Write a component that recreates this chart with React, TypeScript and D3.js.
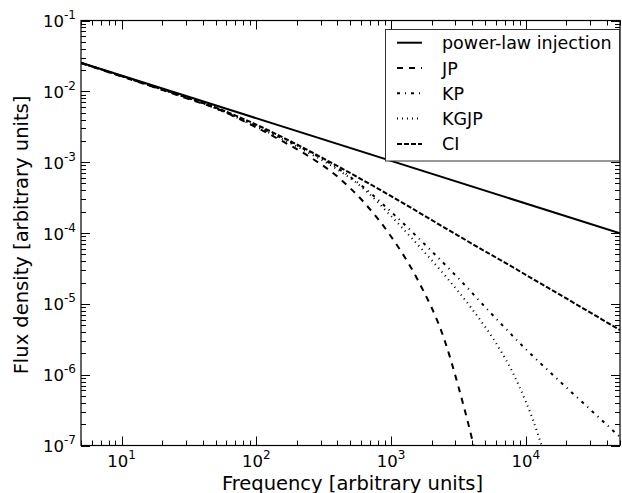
import React from "react";
import * as d3 from "d3";

// Data (log10 units on both axes)
const powerLawLogFreq = [0.699, 4.699];
const powerLawLogFlux = [-1.596, -4.004];

const jpLogFreq = [0.699, 1.0, 1.3, 1.5, 1.7, 2.0, 2.2, 2.4, 2.6, 2.8, 3.0, 3.2, 3.4, 3.5, 3.6, 3.65];
const jpLogFlux = [-1.6, -1.79, -1.98, -2.11, -2.24, -2.51, -2.71, -2.93, -3.2, -3.57, -4.05, -4.67, -5.53, -6.17, -6.9, -7.3];

const kpLogFreq = [0.699, 1.0, 1.3, 1.5, 1.7, 2.0, 2.2, 2.4, 2.6, 2.8, 3.0, 3.25, 3.5, 3.75, 4.0, 4.25, 4.5, 4.699];
const kpLogFlux = [-1.6, -1.785, -1.975, -2.1, -2.235, -2.49, -2.67, -2.86, -3.08, -3.36, -3.7, -4.16, -4.64, -5.15, -5.64, -6.09, -6.53, -6.88];

const kgjpLogFreq = [0.699, 1.0, 1.3, 1.5, 1.7, 2.0, 2.2, 2.4, 2.6, 2.8, 3.0, 3.2, 3.4, 3.6, 3.8, 3.9, 4.0, 4.05, 4.1, 4.15];
const kgjpLogFlux = [-1.6, -1.785, -1.975, -2.1, -2.24, -2.5, -2.68, -2.88, -3.1, -3.38, -3.76, -4.17, -4.6, -5.07, -5.62, -5.96, -6.38, -6.62, -6.9, -7.2];

const ciLogFreq = [0.699, 1.0, 1.3, 1.5, 1.7, 2.0, 2.3, 2.5, 2.75, 3.0, 3.5, 4.0, 4.699];
const ciLogFlux = [-1.6, -1.783, -1.97, -2.098, -2.23, -2.47, -2.75, -2.95, -3.21, -3.48, -4.04, -4.59, -5.37];

const seriesNames = ["power-law injection", "JP", "KP", "KGJP", "CI"];
const xTickExps = [1, 2, 3, 4];
const yTickExps = [-7, -6, -5, -4, -3, -2, -1];

const xLabel = "Frequency [arbitrary units]";
const yLabel = "Flux density [arbitrary units]";

const W = 622, H = 493;
const L = 81, R = 620, T = 20.5, B = 445.5;
const FONT = "DejaVu Sans, sans-serif";

export default function App() {
  const x = d3.scaleLog().domain([5, 5e4]).range([L, R]);
  const y = d3.scaleLog().domain([1e-7, 1e-1]).range([B, T]);

  const mk = (lf: number[], lv: number[]) => lf.map((f, i) => [Math.pow(10, f), Math.pow(10, lv[i])] as [number, number]);
  const line = d3.line<[number, number]>().x(d => x(d[0])).y(d => y(d[1])).curve(d3.curveMonotoneX);

  const series = [
    { name: seriesNames[0], data: mk(powerLawLogFreq, powerLawLogFlux), dash: "none" },
    { name: seriesNames[1], data: mk(jpLogFreq, jpLogFlux), dash: "6,6" },
    { name: seriesNames[2], data: mk(kpLogFreq, kpLogFlux), dash: "3,5,1,5" },
    { name: seriesNames[3], data: mk(kgjpLogFreq, kgjpLogFlux), dash: "1,4" },
    { name: seriesNames[4], data: mk(ciLogFreq, ciLogFlux), dash: "5,2" },
  ];

  const xMinor: number[] = [];
  for (let d = 0; d <= 4; d++) for (let k = 2; k <= 9; k++) {
    const v = k * Math.pow(10, d);
    if (v >= 5 && v <= 5e4) xMinor.push(v);
  }
  const yMinor: number[] = [];
  for (let d = -7; d <= -2; d++) for (let k = 2; k <= 9; k++) yMinor.push(k * Math.pow(10, d));

  const major = 9, minor = 5;

  return (
    <svg width={W} height={H} style={{ position: "absolute", left: 0, top: 0, background: "#fff" }} fontFamily={FONT}>
      <rect x={0} y={0} width={W} height={H} fill="#fff" />
      <defs>
        <clipPath id="plotclip"><rect x={L} y={T} width={R - L} height={B - T} /></clipPath>
      </defs>
      <g clipPath="url(#plotclip)">
        {series.map(s => (
          <path key={s.name} d={line(s.data) || ""} fill="none" stroke="#000" strokeWidth={2}
            strokeDasharray={s.dash === "none" ? undefined : s.dash} />
        ))}
      </g>
      {/* ticks */}
      <g stroke="#000" strokeWidth={1}>
        {xTickExps.map(e => {
          const px = Math.round(x(Math.pow(10, e))) + 0.5;
          return <g key={"xt" + e}>
            <line x1={px} x2={px} y1={B} y2={B - major} />
            <line x1={px} x2={px} y1={T} y2={T + major} />
          </g>;
        })}
        {xMinor.map(v => {
          const px = Math.round(x(v)) + 0.5;
          return <g key={"xm" + v}>
            <line x1={px} x2={px} y1={B} y2={B - minor} />
            <line x1={px} x2={px} y1={T} y2={T + minor} />
          </g>;
        })}
        {yTickExps.map(e => {
          const py = Math.round(y(Math.pow(10, e))) + 0.5;
          return <g key={"yt" + e}>
            <line x1={L} x2={L + major} y1={py} y2={py} />
            <line x1={R} x2={R - major} y1={py} y2={py} />
          </g>;
        })}
        {yMinor.map(v => {
          const py = Math.round(y(v)) + 0.5;
          return <g key={"ym" + v}>
            <line x1={L} x2={L + minor} y1={py} y2={py} />
            <line x1={R} x2={R - minor} y1={py} y2={py} />
          </g>;
        })}
      </g>
      <rect x={L} y={T} width={R - L} height={B - T} fill="none" stroke="#000" strokeWidth={1.2} />
      {/* tick labels */}
      {xTickExps.map(e => (
        <text key={"xl" + e} x={x(Math.pow(10, e))} y={466.5} textAnchor="middle" fontSize={16.5} fill="#000">
          <tspan>10</tspan><tspan dy={-8} fontSize={12}>{String(e)}</tspan>
        </text>
      ))}
      {yTickExps.map(e => (
        <text key={"yl" + e} x={76} y={y(Math.pow(10, e)) + 6.5} textAnchor="end" fontSize={16.5} fill="#000">
          <tspan>10</tspan><tspan dy={-8} fontSize={12}>{e < 0 ? "-" + Math.abs(e) : String(e)}</tspan>
        </text>
      ))}
      {/* axis labels */}
      <text x={(L + R) / 2 + 2} y={489.5} textAnchor="middle" fontSize={19.5} fill="#000">{xLabel}</text>
      <text transform={`translate(28,${(T + B) / 2 + 2}) rotate(-90)`} textAnchor="middle" fontSize={19.5} fill="#000">{yLabel}</text>
      {/* legend */}
      <g>
        <rect x={385.5} y={29.5} width={234} height={131.5} fill="#fff" stroke="#333" strokeWidth={1} />
        {series.map((s, i) => {
          const cy = 42.7 + i * 25.3;
          return <g key={"lg" + i}>
            <line x1={397} x2={422} y1={cy} y2={cy} stroke="#000" strokeWidth={2}
              strokeDasharray={s.dash === "none" ? undefined : s.dash} />
            <text x={442} y={cy + 6.5} fontSize={17.5} fill="#000">{s.name}</text>
          </g>;
        })}
      </g>
    </svg>
  );
}
